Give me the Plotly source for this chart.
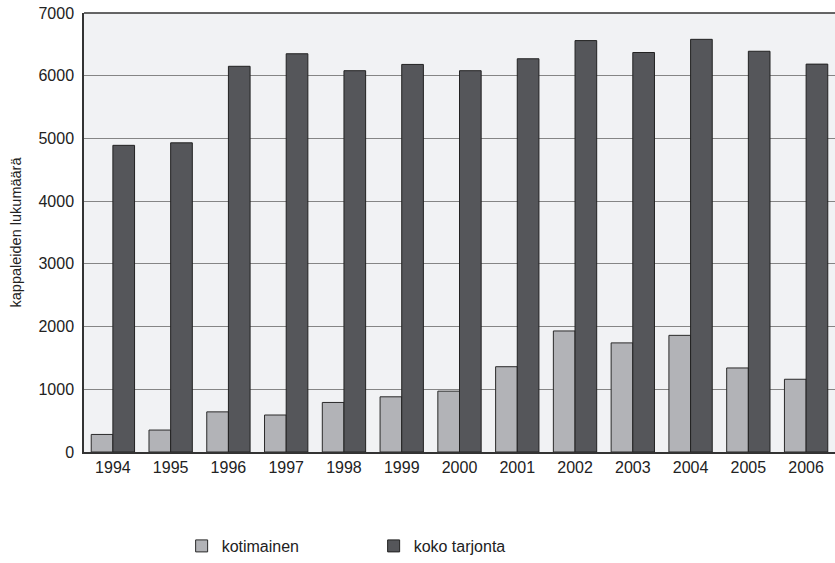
import plotly.graph_objects as go

years = ["1994", "1995", "1996", "1997", "1998", "1999", "2000",
         "2001", "2002", "2003", "2004", "2005", "2006"]
kotimainen = [280, 350, 640, 590, 790, 880, 970, 1360, 1930, 1740, 1860, 1340, 1160]
koko_tarjonta = [4890, 4930, 6150, 6350, 6080, 6180, 6080, 6270, 6560, 6370, 6580, 6390, 6185]

FONT = "Liberation Sans, Arial, sans-serif"

fig = go.Figure()
fig.add_trace(go.Bar(x=years, y=kotimainen, name="kotimainen",
                     marker=dict(color="#b2b3b7", line=dict(color="#2a2a2a", width=1))))
fig.add_trace(go.Bar(x=years, y=koko_tarjonta, name="koko tarjonta",
                     marker=dict(color="#55565a", line=dict(color="#222222", width=1))))

fig.update_layout(
    width=835, height=563,
    barmode="group", bargap=0.25, bargroupgap=0,
    paper_bgcolor="white", plot_bgcolor="#f1f2f4",
    margin=dict(l=84, r=0, t=13, b=101),
    font=dict(family=FONT, size=16, color="#222222"),
    showlegend=True,
    legend=dict(orientation="h", x=0.13, xanchor="left", y=-0.215, yanchor="middle",
                font=dict(size=16, color="#222222"), entrywidth=147, entrywidthmode="pixels",
                bgcolor="rgba(0,0,0,0)"),
    xaxis=dict(showgrid=False, showline=True, linecolor="#333333", linewidth=1.5,
               ticks="", tickfont=dict(size=16)),
    yaxis=dict(range=[0, 7000], dtick=1000, showgrid=True, gridcolor="#858585", gridwidth=1,
               showline=True, linecolor="#333333", linewidth=1.5, ticks="",
               ticklabelstandoff=5, ticklabeloverflow="allow",
               tickfont=dict(size=16), zeroline=False,
               title=dict(text="kappaleiden lukumäärä", font=dict(size=14.5), standoff=13)),
)
fig.add_shape(type="line", xref="paper", yref="paper", x0=0, x1=1, y0=1, y1=1,
              line=dict(color="#333333", width=1.5))

fig.write_html("out.html", config={"displayModeBar": False},
               post_script="document.body.style.margin='0';")
